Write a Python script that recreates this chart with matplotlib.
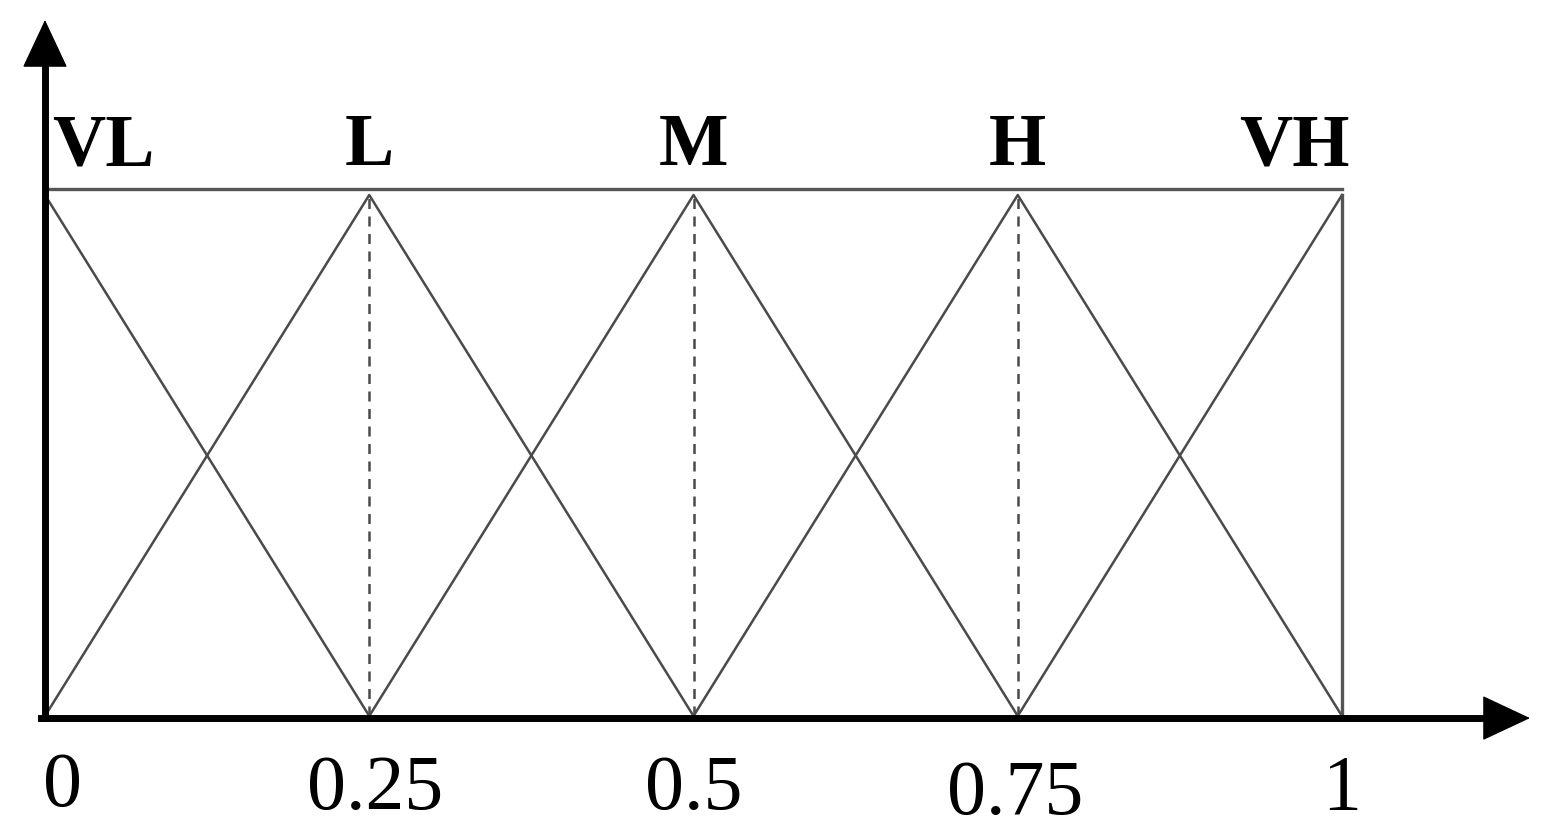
import matplotlib.pyplot as plt

# membership functions (triangles) for the fuzzy sets
labels = ['VL', 'L', 'M', 'H', 'VH']
centers = [0.0, 0.25, 0.5, 0.75, 1.0]
tick_text = ['0', '0.25', '0.5', '0.75', '1']
tick_dy = [0.0, -0.005, -0.005, -0.015, -0.005]
width = 0.25

fig = plt.figure(figsize=(15.48, 8.35), dpi=100)
ax = fig.add_axes([0, 0, 1, 1])
ax.set_xlim(-45 / 1297, (1548 - 45) / 1297)
ax.set_ylim(-119 / 521, 716 / 521)
ax.axis('off')

line_c = '#4a4a4a'
for c in centers:
    xs = [c - width, c, c + width]
    xs = [x for x in xs if -1e-9 <= x <= 1 + 1e-9]
    ys = [0 if x != c else 1 for x in xs]
    ax.plot(xs, ys, color=line_c, lw=1.8)

# dashed verticals under inner peaks
for c in centers[1:-1]:
    ax.plot([c, c], [0, 1], color=line_c, lw=1.8, ls=(0, (4, 3)))

# frame: top line and right edge
ax.plot([0, 1], [1.012, 1.012], color='#555555', lw=2.4)
ax.plot([1, 1], [0, 1.0], color='#555555', lw=2.4)

# axes: thick lines plus sharp arrow heads
y_top = 696 / 521
x_end = 1485 / 1297
ax.plot([0, 0], [-0.004, y_top - 0.05], color='black', lw=5, solid_capstyle='projecting')
ax.plot([-0.003, x_end - 0.03], [-0.004, -0.004], color='black', lw=5,
        solid_capstyle='projecting')
arrow = dict(arrowstyle='-|>,head_length=1.6,head_width=0.75',
             lw=1, color='black', shrinkA=0, shrinkB=0, mutation_scale=20)
ax.annotate('', xy=(0, y_top), xytext=(0, y_top - 0.1), arrowprops=arrow)
ax.annotate('', xy=(x_end, -0.004), xytext=(x_end - 0.05, -0.004),
            arrowprops=arrow)

# set names above peaks
name_x = [(52 - 45) / 1297, 0.25, 0.5, 0.75, (1350 - 45) / 1297]
name_ha = ['left', 'center', 'center', 'center', 'right']
for name, x, ha in zip(labels, name_x, name_ha):
    ax.text(x, (716 - 165) / 521, name, ha=ha, va='baseline',
            fontsize=53, fontweight='bold', family='Liberation Serif')

# tick values under the axis
tick_x = [(62 - 45) / 1297, (375 - 45) / 1297, 0.5, (1015 - 45) / 1297, 1.0]
for t, x, dy in zip(tick_text, tick_x, tick_dy):
    ax.text(x, (716 - 806) / 521 + dy, t, ha='center', va='baseline',
            fontsize=56, family='Liberation Serif')

fig.savefig('out.png', dpi=100)
